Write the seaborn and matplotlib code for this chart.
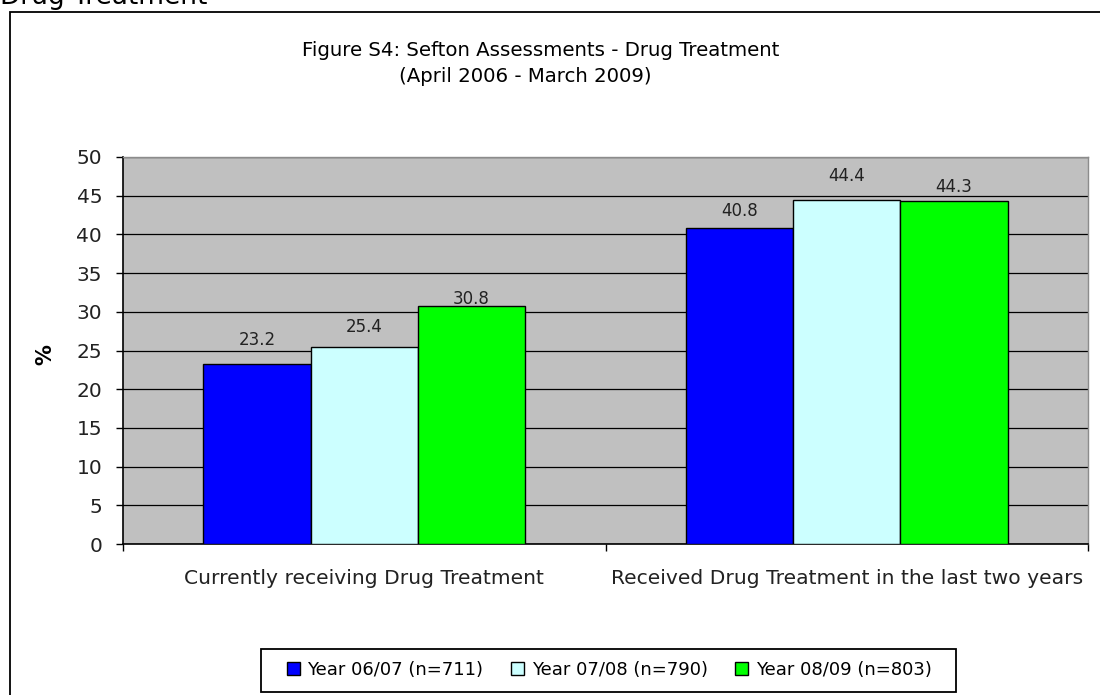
import matplotlib
matplotlib.use("Agg")
import matplotlib.pyplot as plt
import seaborn as sns
import pandas as pd
from matplotlib.patches import Rectangle
from matplotlib.ticker import FixedLocator

# ---- data -------------------------------------------------------------
categories = ["Currently receiving Drug Treatment",
              "Received Drug Treatment in the last two years"]
years = ["Year 06/07 (n=711)", "Year 07/08 (n=790)", "Year 08/09 (n=803)"]
year_0607 = [23.2, 40.8]
year_0708 = [25.4, 44.4]
year_0809 = [30.8, 44.3]
y_ticks = [0, 5, 10, 15, 20, 25, 30, 35, 40, 45, 50]

# ---- style ------------------------------------------------------------
colors = ["#0000FF", "#CCFFFF", "#00FF00"]
plot_bg = "#C0C0C0"
text_col = "#222222"
# vertical gap (px) between each bar top and its value label
label_gap_px = [[19, 12], [15, 19], [2, 9]]

rows = []
for year, vals in zip(years, [year_0607, year_0708, year_0809]):
    for cat, v in zip(categories, vals):
        rows.append({"category": cat, "year": year, "value": v})
df = pd.DataFrame(rows)

sns.set_style("white")
plt.rcParams["font.family"] = ["DejaVu Sans"]

W, H = 1100, 695
fig = plt.figure(figsize=(W / 100, H / 100), dpi=100)


def fx(px):
    return px / W


def fy(py):
    return 1 - py / H


ax = fig.add_axes([fx(123), fy(544), fx(1088 - 123), (544 - 157) / H])
ax.set_facecolor(plot_bg)

sns.barplot(data=df, x="category", y="value", hue="year",
            order=categories, hue_order=years, palette=colors,
            saturation=1, width=0.667, edgecolor="black", linewidth=1.0,
            ax=ax, zorder=3)

handles, labels = ax.get_legend_handles_labels()
if ax.get_legend() is not None:
    ax.get_legend().remove()

# value labels
for cont, gaps in zip(ax.containers, label_gap_px):
    for bar, gap in zip(cont, gaps):
        h = bar.get_height()
        ax.annotate(f"{h:.1f}", xy=(bar.get_x() + bar.get_width() / 2, h),
                    xytext=(0, gap * 0.72), textcoords="offset points",
                    ha="center", va="baseline", fontsize=12,
                    color=text_col, zorder=4)

# axes limits, grid, ticks
ax.set_xlim(-0.5, 1.5)
ax.set_ylim(0, 50)
ax.set_yticks(y_ticks)
ax.yaxis.grid(True, color="black", linewidth=0.9, zorder=0)
ax.set_axisbelow(True)
ax.tick_params(axis="y", direction="out", length=5, width=1, color="black",
               labelsize=14.5, labelcolor=text_col, pad=10, left=True)
ax.tick_params(axis="x", which="major", length=0, labelsize=14.6,
               labelcolor=text_col, pad=18)
ax.xaxis.set_minor_locator(FixedLocator([-0.5, 0.5, 1.5]))
ax.tick_params(axis="x", which="minor", direction="out", length=5,
               width=1, color="black", bottom=True)

for side in ["left", "bottom"]:
    ax.spines[side].set_color("black")
    ax.spines[side].set_linewidth(1.2)
for side in ["top", "right"]:
    ax.spines[side].set_visible(True)
    ax.spines[side].set_color("#8C8C8C")
    ax.spines[side].set_linewidth(1.0)

ax.set_xlabel("")
ax.set_ylabel("%", fontsize=15, fontweight="bold", color="black")
ax.yaxis.set_label_coords((55 - 123) / 965, 0.49)

# titles
fig.text(fx(541), fy(51), "Figure S4: Sefton Assessments - Drug Treatment",
         ha="center", va="center", fontsize=14.2, color="black")
fig.text(fx(525), fy(76), "(April 2006 - March 2009)",
         ha="center", va="center", fontsize=14.2, color="black")

# heading sitting above the chart frame
fig.text(0.0, fy(4), "Drug Treatment", ha="left", va="baseline",
         fontsize=19, color="black")

# chart frame
fig.patches.append(Rectangle((fx(10), -0.05), 1.2, fy(12) + 0.05,
                             transform=fig.transFigure, fill=False,
                             edgecolor="black", linewidth=1.3))

# legend
fig.legend(handles, labels, loc="center", bbox_to_anchor=(fx(609), fy(670)),
           ncol=3, frameon=False, fontsize=13, handlelength=0.72,
           handleheight=0.72, handletextpad=0.44, columnspacing=1.5,
           borderpad=0.3, labelcolor="black")
fig.patches.append(Rectangle((fx(261), fy(692)), fx(956 - 261), (692 - 649) / H,
                             transform=fig.transFigure, fill=False,
                             edgecolor="black", linewidth=1.3))

fig.savefig("out.png", dpi=100)
